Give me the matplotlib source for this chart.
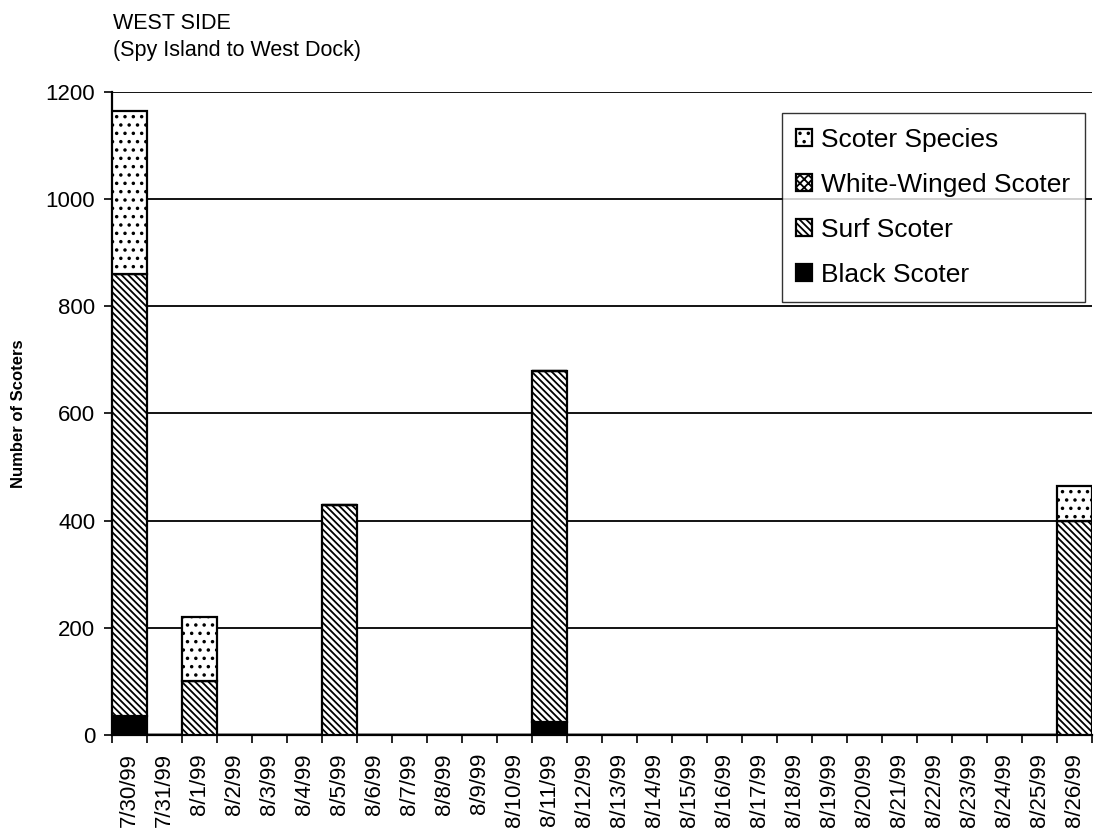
import matplotlib
matplotlib.use("Agg")
import matplotlib.pyplot as plt
import numpy as np

plt.rcParams["font.family"] = ["Liberation Sans", "DejaVu Sans"]
plt.rcParams["hatch.linewidth"] = 1.3

# survey dates, 7/30/99 through 8/26/99
dates = ["7/30/99", "7/31/99"] + [f"8/{d}/99" for d in range(1, 27)]

# counts per survey date (only surveyed days are non-zero)
black_scoter = np.zeros(len(dates))
surf_scoter = np.zeros(len(dates))
white_winged = np.zeros(len(dates))
scoter_species = np.zeros(len(dates))

black_scoter[dates.index("7/30/99")] = 35
black_scoter[dates.index("8/11/99")] = 25
surf_scoter[dates.index("7/30/99")] = 825
surf_scoter[dates.index("8/1/99")] = 100
surf_scoter[dates.index("8/5/99")] = 430
surf_scoter[dates.index("8/11/99")] = 655
surf_scoter[dates.index("8/26/99")] = 400
scoter_species[dates.index("7/30/99")] = 305
scoter_species[dates.index("8/1/99")] = 120
scoter_species[dates.index("8/26/99")] = 65

y_ticks = [0, 200, 400, 600, 800, 1000, 1200]

fig = plt.figure(figsize=(10.94, 8.34), dpi=100)
ax = fig.add_axes([0.1024, 0.1187, 0.8956, 0.7710])

x = np.arange(len(dates))
series = [
    ("Black Scoter", black_scoter, "black", ""),
    ("Surf Scoter", surf_scoter, "white", "\\\\\\\\\\"),
    ("White-Winged Scoter", white_winged, "white", "xxxx"),
    ("Scoter Species", scoter_species, "white", ".."),
]
bottom = np.zeros(len(dates))
handles = []
for name, vals, face, hatch in series:
    bars = ax.bar(x, vals, width=1.0, bottom=bottom, color=face, edgecolor="black",
                  hatch=hatch, linewidth=1.6, label=name, zorder=3)
    handles.append(bars)
    bottom += vals

ax.set_xlim(-0.5, len(dates) - 0.5)
ax.set_ylim(0, 1200)
ax.set_yticks(y_ticks)
ax.yaxis.grid(True, color="black", linewidth=1.3, zorder=0)
ax.set_axisbelow(True)

ax.set_xticks(x)
ax.set_xticklabels(dates, rotation=90, fontsize=16)
ax.tick_params(axis="x", which="major", length=0, pad=13)
ax.set_xticks(np.arange(-0.5, len(dates), 1.0), minor=True)
ax.tick_params(axis="x", which="minor", length=6, width=1.2, direction="out")
ax.tick_params(axis="y", labelsize=16, length=6, width=1.2, direction="out", pad=6)

for side in ("top", "right"):
    ax.spines[side].set_visible(False)
ax.spines["left"].set_linewidth(1.6)
ax.spines["bottom"].set_linewidth(1.6)

ax.set_ylabel("Number of Scoters", fontsize=12, fontweight="bold", labelpad=14)

leg = ax.legend(handles[::-1], [s[0] for s in series][::-1], loc="upper right",
                bbox_to_anchor=(0.993, 0.967), borderaxespad=0, fontsize=19,
                frameon=True, fancybox=False, edgecolor="black",
                handlelength=0.6, handleheight=0.6, handletextpad=0.35,
                labelspacing=0.8, borderpad=0.55)
leg.get_frame().set_linewidth(1.0)

fig.text(0.103, 0.972, "WEST SIDE", fontsize=15.5, ha="left", va="center")
fig.text(0.103, 0.940, "(Spy Island to West Dock)", fontsize=15.5, ha="left", va="center")

fig.savefig("out.png", dpi=100, facecolor="white")
